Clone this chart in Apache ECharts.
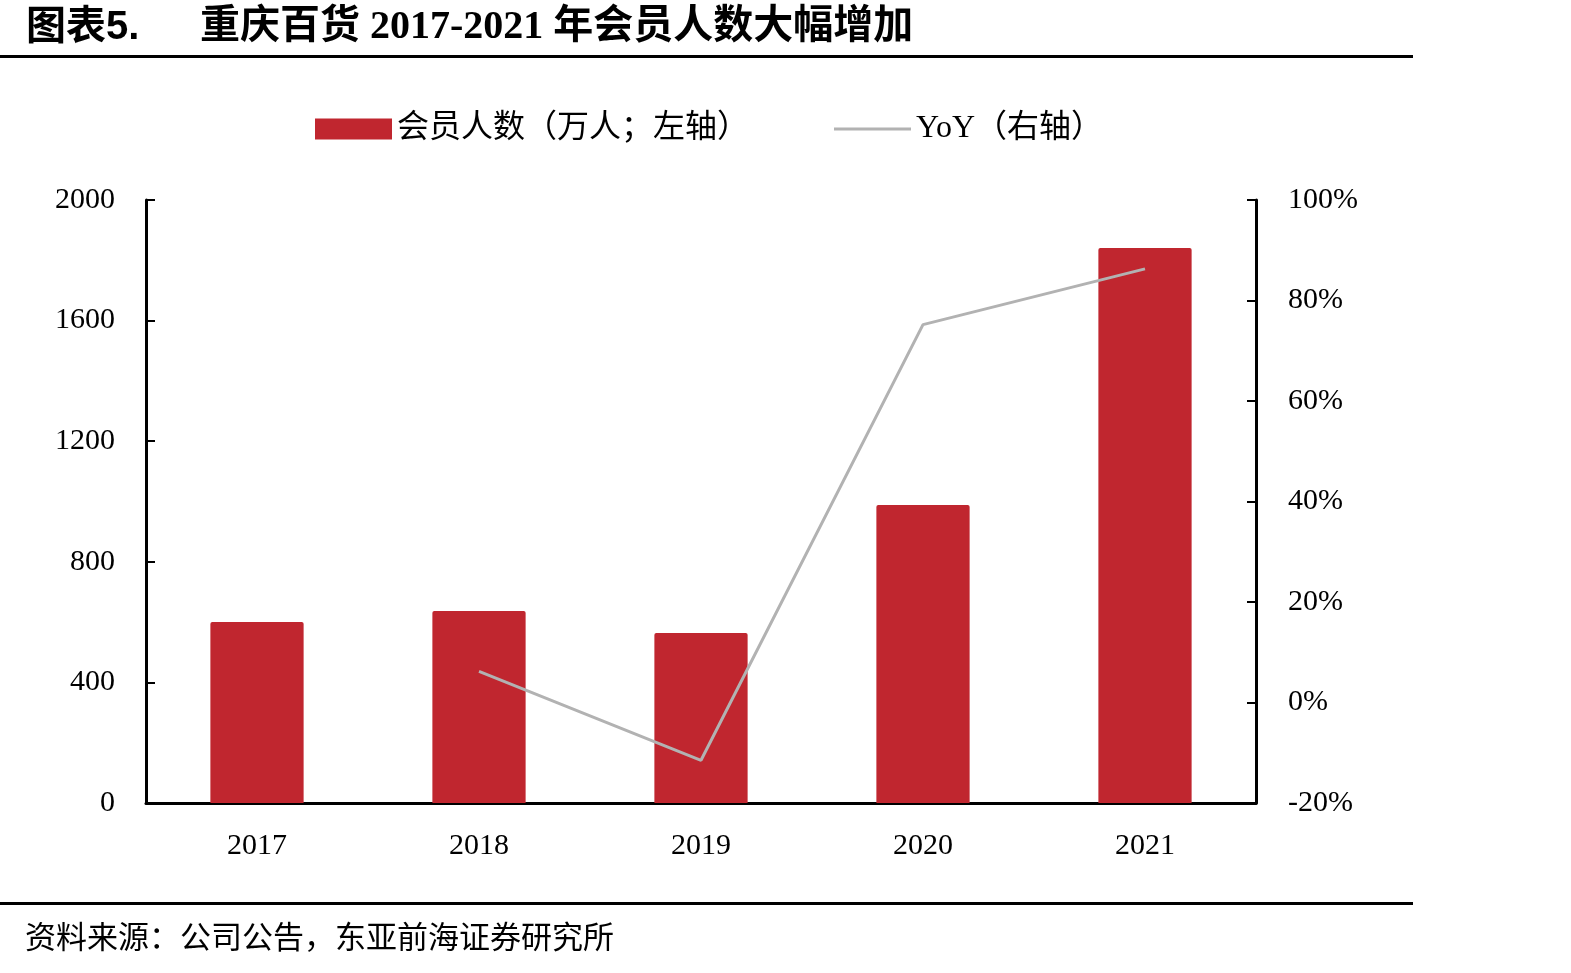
<!DOCTYPE html>
<html><head><meta charset="utf-8">
<script src="https://cdn.jsdelivr.net/npm/echarts@6/dist/echarts.min.js"></script>
<style>html,body{margin:0;padding:0;background:#fff}#c{width:1571px;height:973px}</style>
</head><body><div id="c"></div>
<script>
const categories = ['2017','2018','2019','2020','2021'];
const members = [600, 637, 564, 988, 1841];
const yoy = [null, 6.2, -11.5, 75.2, 86.3];
const leftTicks = [0, 400, 800, 1200, 1600, 2000];
const rightTicks = [-20, 0, 20, 40, 60, 80, 100];

const FONT = '"Liberation Serif","Noto Sans CJK SC",serif';
const chart = echarts.init(document.getElementById('c'));
chart.setOption({
  animation: false,
  grid: {left: 146, right: 1571 - 1256, top: 200, bottom: 973 - 803, containLabel: false},
  legend: {
    top: 108, left: 310, itemWidth: 77, itemHeight: 21, itemGap: 85,
    textStyle: {fontFamily: FONT, fontSize: 32, color: '#000'},
    data: [
      {name: '会员人数（万人；左轴）', icon: 'rect'},
      {name: 'YoY（右轴）', icon: 'path://M0,0 L77,0 L77,3 L0,3 Z'}
    ]
  },
  xAxis: {
    type: 'category', data: categories,
    axisLine: {lineStyle: {color: '#000', width: 3}},
    axisTick: {show: false},
    axisLabel: {fontFamily: FONT, fontSize: 30, color: '#000', margin: 28}
  },
  yAxis: [
    {type: 'value', min: 0, max: 2000, interval: 400,
     axisLine: {show: true, lineStyle: {color: '#000', width: 3}},
     axisTick: {show: true, inside: true, length: 9, lineStyle: {color: '#000', width: 2}},
     splitLine: {show: false},
     axisLabel: {fontFamily: FONT, fontSize: 30, color: '#000', margin: 31, formatter: v => String(v)}},
    {type: 'value', min: -20, max: 100, interval: 20,
     axisLine: {show: true, lineStyle: {color: '#000', width: 3}},
     axisTick: {show: true, inside: true, length: 9, lineStyle: {color: '#000', width: 2}},
     splitLine: {show: false},
     axisLabel: {fontFamily: FONT, fontSize: 30, color: '#000', margin: 32, formatter: '{value}%'}}
  ],
  series: [
    {name: '会员人数（万人；左轴）', type: 'bar', data: members, barWidth: '42%',
     itemStyle: {color: '#C0262F', borderRadius: [2,2,0,0]}},
    {name: 'YoY（右轴）', type: 'line', yAxisIndex: 1, data: yoy, symbol: 'none',
     lineStyle: {color: '#B2B2B2', width: 3}, itemStyle: {color: '#B2B2B2'}}
  ],
  graphic: [
    {type: 'text', left: 26, top: 8, style: {text: '图表5.', font: 'bold 40px "Liberation Sans","Noto Sans CJK SC",sans-serif', fill: '#000'}},
    {type: 'text', left: 200, top: 8, style: {text: '重庆百货 2017-2021 年会员人数大幅增加', font: 'bold 40px "Liberation Serif","Noto Sans CJK SC",serif', fill: '#000'}},
    {type: 'rect', shape: {x: 0, y: 55, width: 1413, height: 3}, style: {fill: '#000'}},
    {type: 'rect', shape: {x: 0, y: 902, width: 1413, height: 3}, style: {fill: '#000'}},
    {type: 'text', left: 25, top: 921, style: {text: '资料来源：公司公告，东亚前海证券研究所', font: '31px "Noto Sans CJK SC",serif', fill: '#000'}}
  ]
});
</script></body></html>
